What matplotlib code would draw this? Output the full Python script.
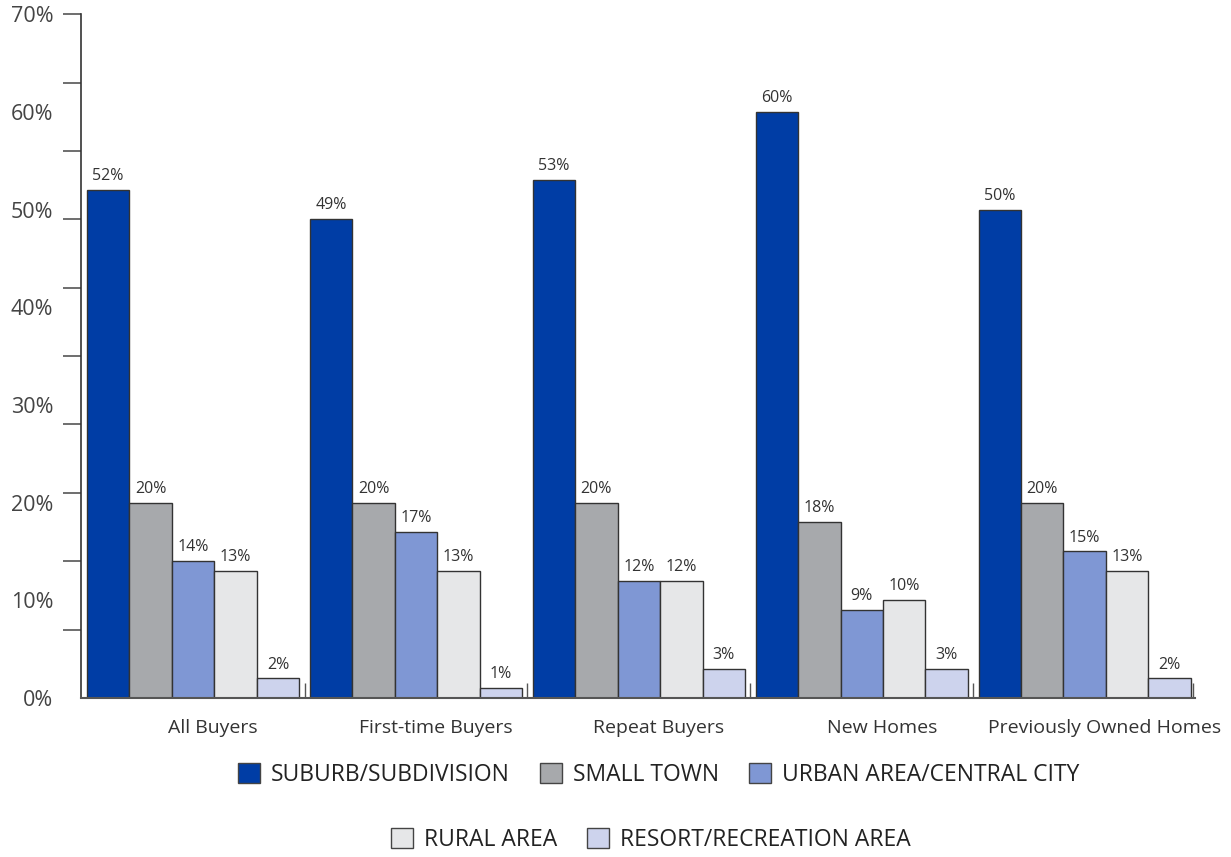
import matplotlib.pyplot as plt
import matplotlib.ticker as mtick
import numpy as np
from matplotlib.patches import Patch

plt.rcParams['font.family'] = ['Open Sans', 'DejaVu Sans']

groups = ['All Buyers', 'First-time Buyers', 'Repeat Buyers', 'New Homes', 'Previously Owned Homes']
series_names = ['SUBURB/SUBDIVISION', 'SMALL TOWN', 'URBAN AREA/CENTRAL CITY', 'RURAL AREA', 'RESORT/RECREATION AREA']
suburb = [52, 49, 53, 60, 50]
small_town = [20, 20, 20, 18, 20]
urban = [14, 17, 12, 9, 15]
rural = [13, 13, 12, 10, 13]
resort = [2, 1, 3, 3, 2]
colors = ['#003DA5', '#A7A9AC', '#7F97D4', '#E6E7E8', '#CDD3ED']

values = [suburb, small_town, urban, rural, resort]

fig = plt.figure(figsize=(12.31, 8.57), dpi=100)
ax = fig.add_axes([0.0658, 0.1855, 0.905, 0.798])

bar_w = 1.0
pitch = 5.25
x0 = np.arange(len(groups)) * pitch

for j, (vals, col) in enumerate(zip(values, colors)):
    xs = x0 + j * bar_w + bar_w / 2
    ax.bar(xs, vals, width=bar_w, color=col, edgecolor='#333333', linewidth=1.0, zorder=2)
    for x, v in zip(xs, vals):
        ax.text(x, v + 0.6, f'{v}%', ha='center', va='bottom', fontsize=11.5, color='#333333')

ax.set_ylim(0, 70)
ax.set_xlim(-0.14, 26.1)

# tick marks every 7%, labels every 10%
ax.yaxis.remove_overlapping_locs = False
ax.yaxis.set_major_locator(mtick.FixedLocator(np.arange(7, 71, 7)))
ax.yaxis.set_major_formatter(mtick.NullFormatter())
ax.yaxis.set_minor_locator(mtick.FixedLocator(np.arange(0, 71, 10)))
ax.yaxis.set_minor_formatter(mtick.FuncFormatter(lambda v, p: f'{v:.0f}%'))
ax.tick_params(axis='y', which='major', length=13, width=1.2, color='#555555', direction='out')
ax.tick_params(axis='y', which='minor', length=0, pad=20, labelsize=15.5, labelcolor='#444444')

# category labels plus small separator marks between groups
ax.set_xticks(x0 + 2.5 + 0.47)
ax.set_xticklabels(groups)
ax.xaxis.set_minor_locator(mtick.FixedLocator(list(x0[1:] - 0.125) + [26.04]))
ax.tick_params(axis='x', which='major', length=0, pad=15, labelsize=14, labelcolor='#333333')
ax.tick_params(axis='x', which='minor', length=11, width=1.0, color='#555555', direction='in')

for side in ['top', 'right']:
    ax.spines[side].set_visible(False)
ax.spines['left'].set_color('#333333')
ax.spines['bottom'].set_color('#555555')
ax.spines['left'].set_linewidth(1.2)
ax.spines['bottom'].set_linewidth(1.5)

handles = [Patch(facecolor=c, edgecolor='#444444', linewidth=1.0) for c in colors]
legend_kw = dict(loc='center', frameon=False, fontsize=16.5, handlelength=0.96, handleheight=0.96,
                 handletextpad=0.48, columnspacing=1.3)
leg1 = fig.legend(handles[:3], series_names[:3], bbox_to_anchor=(0.535, 1 - 775 / 857), ncol=3, **legend_kw)
leg2 = fig.legend(handles[3:], series_names[3:], bbox_to_anchor=(0.529, 1 - 840 / 857), ncol=2, **legend_kw)
for leg in (leg1, leg2):
    for t in leg.get_texts():
        t.set_color('#222222')

fig.savefig('out.png', dpi=100)
